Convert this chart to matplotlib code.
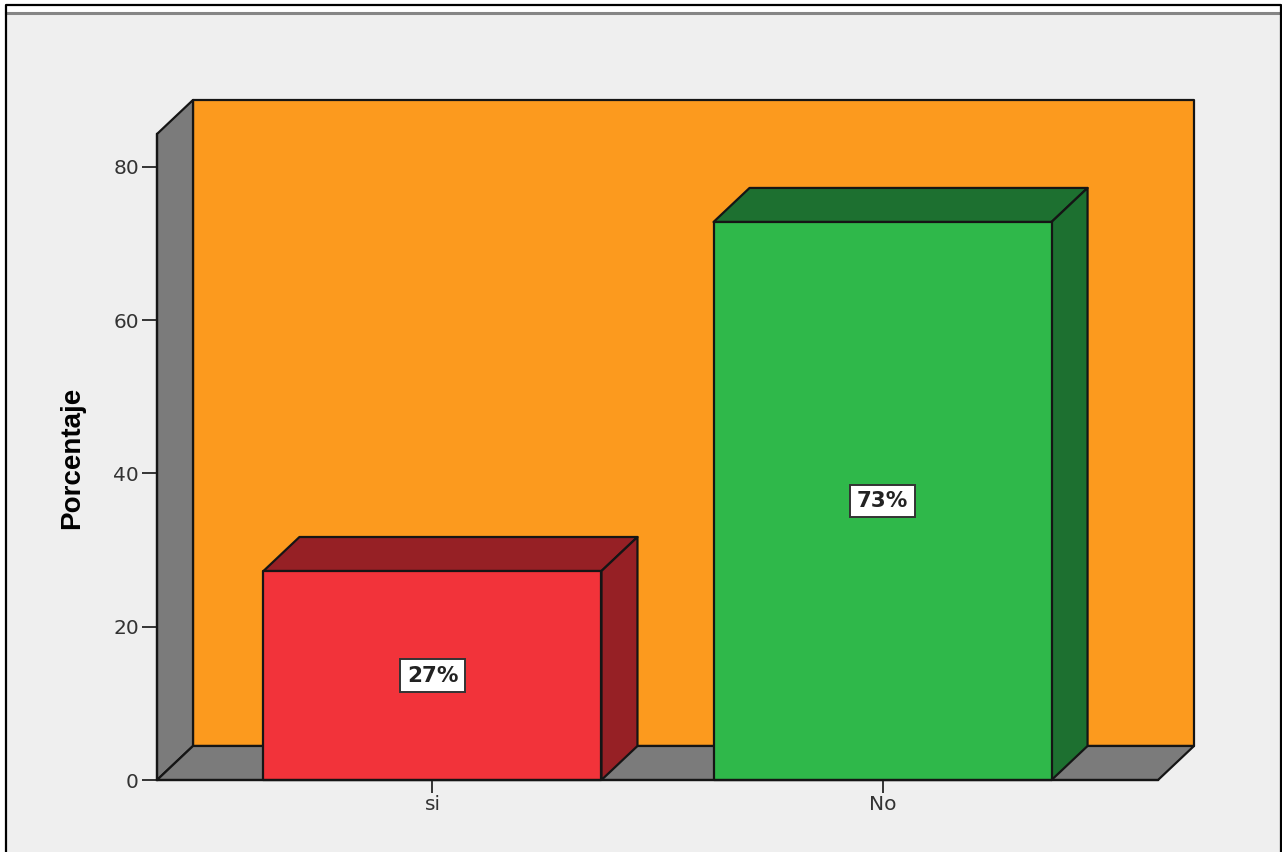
import matplotlib
matplotlib.use('Agg')
import matplotlib.pyplot as plt
from matplotlib.patches import Polygon, Rectangle
from matplotlib.lines import Line2D

# values
categories = ['si', 'No']
percent = [27.27, 72.82]
bar_labels = ['27%', '73%']
bar_colors = ['#F2333A', '#2FB84A']
side_colors = ['#962025', '#1D7030']
y_ticks = [0, 20, 40, 60, 80]

W, H = 1282, 852
fig = plt.figure(figsize=(W / 100, H / 100), dpi=100, facecolor='#EFEFEF')

# outer screenshot frame
fig.add_artist(Rectangle((0, (H - 12) / H), 1, 12 / H, transform=fig.transFigure, fc='white', ec='none'))
fig.add_artist(Rectangle((0, 0), 6 / W, 1, transform=fig.transFigure, fc='white', ec='none'))
fig.add_artist(Line2D([6 / W, 1281 / W], [(H - 13.3) / H] * 2, color='#858585', lw=2.2))
fig.add_artist(Line2D([6.2 / W, 6.2 / W, 1281 / W, 1281 / W], [0, (H - 4.5) / H, (H - 4.5) / H, 0], color='black', lw=1.6))

ax = fig.add_axes([157 / W, (H - 780) / H, (1158 - 157) / W, (780 - 134) / H])
ax.set_facecolor('none')
ax.set_xlim(-0.612, 1.612)
ax.set_ylim(0, 84.3)

dx, dy = 0.08, 4.44   # depth of the 3d effect
x0, x1 = ax.get_xlim()
top = ax.get_ylim()[1]
edge = dict(ec='#151515', lw=1.6, joinstyle='round', clip_on=False)

# back wall, side wall and floor
ax.add_patch(Rectangle((x0 + dx, dy), x1 - x0, top, fc='#FC9A1E', **edge))
ax.add_patch(Polygon([(x0, 0), (x0 + dx, dy), (x0 + dx, top + dy), (x0, top)], fc='#7B7B7B', **edge))
ax.add_patch(Polygon([(x0, 0), (x1, 0), (x1 + dx, dy), (x0 + dx, dy)], fc='#7B7B7B', **edge))

bar_w = 0.751
for i, v in enumerate(percent):
    l, r = i - bar_w / 2, i + bar_w / 2
    ax.add_patch(Polygon([(l, v), (r, v), (r + dx, v + dy), (l + dx, v + dy)], fc=side_colors[i], **edge))
    ax.add_patch(Polygon([(r, 0), (r + dx, dy), (r + dx, v + dy), (r, v)], fc=side_colors[i], **edge))
    ax.add_patch(Rectangle((l, 0), bar_w, v, fc=bar_colors[i], **edge))
    ax.text(i, v / 2, bar_labels[i], ha='center', va='center', fontsize=15.5, fontweight='bold',
            color='#222222', zorder=5,
            bbox=dict(boxstyle='square,pad=0.3', fc='white', ec='#333333', lw=1.4))

for s in ['top', 'right']:
    ax.spines[s].set_visible(False)
for s in ['left', 'bottom']:
    ax.spines[s].set_color('#151515')
    ax.spines[s].set_linewidth(1.6)
    ax.spines[s].set_zorder(6)

ax.set_xticks(range(len(categories)))
ax.set_xticklabels(categories)
ax.set_yticks(y_ticks)
ax.tick_params(axis='x', length=9, width=1.4, color='#333333', pad=2, labelsize=14.5, labelcolor='#333333')
ax.tick_params(axis='y', length=11, width=1.4, color='#333333', pad=2, labelsize=14.5, labelcolor='#333333')

fig.text(72 / W, (H - 458) / H, 'Porcentaje', rotation=90, ha='center', va='center', fontsize=20,
         fontweight='bold', family='Liberation Sans', color='black')

fig.savefig('out.png', dpi=100, facecolor=fig.get_facecolor())
